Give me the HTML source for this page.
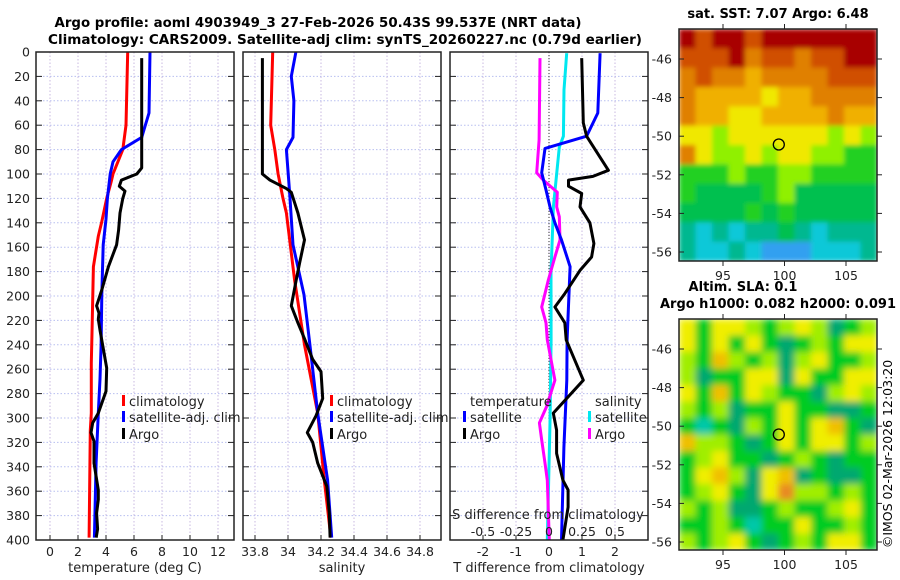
<!DOCTYPE html>
<html><head><meta charset="utf-8"><style>
html,body{margin:0;padding:0;background:#fff;}
svg{display:block;font-family:"DejaVu Sans","Liberation Sans",sans-serif;}
</style></head><body>
<svg id="fig" width="900" height="580" viewBox="0 0 900 580" xmlns="http://www.w3.org/2000/svg">
<defs>
<filter id="blurS" x="0" y="0" width="1" height="1"><feGaussianBlur stdDeviation="2.5" edgeMode="duplicate"/></filter>
<filter id="blurA" x="0" y="0" width="1" height="1"><feGaussianBlur stdDeviation="3.5" edgeMode="duplicate"/></filter>
<clipPath id="clipTop"><rect x="679" y="29" width="198" height="232"/></clipPath>
<clipPath id="clipBot"><rect x="679" y="319" width="198" height="231"/></clipPath>
</defs>
<text x="318" y="27" text-anchor="middle" font-weight="bold" font-size="13" textLength="527" lengthAdjust="spacingAndGlyphs">Argo profile: aoml 4903949_3 27-Feb-2026 50.43S 99.537E (NRT data)</text>
<text x="345" y="44" text-anchor="middle" font-weight="bold" font-size="13" textLength="594" lengthAdjust="spacingAndGlyphs">Climatology: CARS2009. Satellite-adj clim: synTS_20260227.nc (0.79d earlier)</text>
<g id="plots"></g>
<text x="778" y="18" text-anchor="middle" font-weight="bold" font-size="13">sat. SST: 7.07 Argo: 6.48</text>
<text x="743" y="291" text-anchor="middle" font-weight="bold" font-size="13">Altim. SLA: 0.1</text>
<text x="778" y="308" text-anchor="middle" font-weight="bold" font-size="13" textLength="236" lengthAdjust="spacingAndGlyphs">Argo h1000: 0.082 h2000: 0.091</text>
<text transform="translate(892,454) rotate(-90)" text-anchor="middle" font-size="12.5">©IMOS 02-Mar-2026 12:03:20</text>
</svg>
<script>
// ---------- profile data ----------
const depthTicks = [0,20,40,60,80,100,120,140,160,180,200,220,240,260,280,300,320,340,360,380,400];
const tempTicks = [0,2,4,6,8,10,12];
const salTicks = [33.8,34,34.2,34.4,34.6,34.8];
const salTickLabels = ["33.8","34","34.2","34.4","34.6","34.8"];
const tdiffTicks = [-2,-1,0,1,2];
const sdiffTicks = [-0.5,-0.25,0,0.25,0.5];
const sdiffTickLabels = ["-0.5","-0.25","0","0.25","0.5"];

const climTDepth = [0,60,80,100,105,120,139,151,176,230,255,296,310,398];
const climTVal   = [5.55,5.43,5.2,4.5,4.4,4.05,3.7,3.45,3.1,3.0,2.95,2.95,2.88,2.79];
const satTDepth = [0,50,70,80,90,100,120,137,158,199,240,268,296,337,398];
const satTVal   = [7.14,7.07,6.55,5.1,4.5,4.3,4.1,4.0,3.8,3.7,3.65,3.57,3.45,3.29,3.17];
const argoTDepth = [5,95,100,105,110,114,120,132,146,158,176,195,208,214,219,228,240,259,278,296,304,312,319,337,359,367,378,391,398];
const argoTVal   = [6.55,6.55,6.2,5.1,4.95,5.36,5.2,5.0,4.9,4.76,4.17,3.7,3.33,3.5,3.45,3.57,3.76,4.05,4.0,3.45,3.05,2.93,3.14,3.14,3.45,3.45,3.33,3.4,3.3];

const climSDepth = [0,60,80,100,120,132,187,240,296,351,398];
const climSVal   = [33.907,33.895,33.92,33.94,33.97,33.99,34.04,34.10,34.18,34.22,34.26];
const satSDepth = [0,20,40,70,80,115,158,199,240,296,351,398];
const satSVal   = [34.048,34.02,34.036,34.03,33.99,34.01,34.03,34.097,34.133,34.18,34.24,34.265];
const argoSDepth = [5,100,105,112,115,132,154,173,187,208,222,235,252,262,284,298,312,320,337,356,378,398];
const argoSVal   = [33.845,33.845,33.89,33.99,34.02,34.06,34.10,34.07,34.05,34.02,34.06,34.10,34.15,34.2,34.21,34.17,34.117,34.15,34.18,34.235,34.25,34.255];

const satTdDepth = [1,50,69,79,99,113,127,140,154,176,236,269,324,400];
const satTdVal   = [1.55,1.48,1.14,-0.12,-0.22,-0.09,0.03,0.18,0.38,0.64,0.55,0.54,0.45,0.38];
const argoTdDepth = [5,58,69,97,102,105,110,116,127,140,157,168,179,198,209,222,236,269,296,310,329,351,359,373,400];
const argoTdVal   = [0.99,1.04,1.14,1.8,1.33,0.59,0.59,0.99,0.94,1.24,1.36,1.29,0.94,0.48,0.18,0.48,0.52,1.04,0.13,0.23,0.23,0.42,0.58,0.58,0.42];
const satSdDepth = [1,31,69,78,127,181,236,300,400];
const satSdVal   = [0.134,0.114,0.109,0.078,0.033,0.015,0.016,0.008,-0.013];
const argoSdDepth = [5,72,99,105,115,127,135,154,168,187,209,222,236,269,291,304,318,337,351,400];
const argoSdVal   = [-0.068,-0.075,-0.093,-0.043,0.063,0.058,0.078,0.083,0.045,-0.005,-0.055,-0.023,-0.013,0.045,-0.02,-0.073,-0.055,-0.03,-0.013,0.002];

// ---------- map data ----------
const sstLevelColors = ["#30a0f0","#10c8d8","#00b890","#00c050","#20d020","#90f000","#f0e800","#f0b000","#e08000","#d05000","#a80000"];
const sstGrid = [
 [10,9,10,10,9,10,10,10,10,10,10,10],
 [9,9,9,10,8,9,9,8,9,9,10,10],
 [8,9,8,8,7,8,8,8,8,9,9,9],
 [8,7,7,7,7,6,7,7,8,8,8,8],
 [8,7,7,6,6,7,7,7,7,8,7,7],
 [6,6,5,6,6,6,6,6,6,5,6,5],
 [8,6,5,5,6,5,6,6,5,5,4,4],
 [4,4,4,5,4,4,5,5,4,4,4,4],
 [4,3,3,3,3,4,5,3,3,3,3,3],
 [3,3,3,3,4,3,4,3,3,3,3,3],
 [2,1,2,1,2,2,3,2,1,2,2,2],
 [2,1,1,2,1,0,0,0,1,1,1,2]
];
const slaLevels = [-2,-1,0,1,2,3,4];
const slaColors = ["#00c8a8","#00a870","#00cc20","#a0ee00","#f0ee00","#f0c000","#e88a20"];
const slaGrid = [
 [2,0,2,2,1,0,1,2,1,-1,0,1],
 [2,0,2,0,2,0,-1,0,1,0,2,2],
 [1,0,3,1,0,1,-1,1,2,0,0,1],
 [1,-1,0,0,2,2,-1,2,0,0,2,2],
 [2,0,3,0,2,1,0,0,-1,1,2,1],
 [1,0,1,-1,0,0,2,0,0,-1,-1,0],
 [0,-2,0,-1,1,0,2,0,2,3,0,-1],
 [3,1,1,0,-1,0,2,0,2,2,0,1],
 [0,1,2,0,0,-1,0,1,0,-1,0,0],
 [0,2,3,1,-1,2,3,-1,0,-1,-1,0],
 [0,1,2,0,-1,2,4,1,1,0,1,0],
 [1,0,1,-1,-1,0,1,0,0,1,2,0],
 [0,0,1,0,-2,0,0,2,0,0,1,0],
 [1,0,1,2,0,-1,0,1,0,2,2,0]
];
const latTicks = [-46,-48,-50,-52,-54,-56];
const lonTicks = [95,100,105];
const argoLon = 99.537;
const argoLat = -50.43;

// ---------- scales ----------
const Y0 = 52, Y1 = 540;
function depthY(d){ return Y0 + d*(Y1-Y0)/400; }
function tX(t){ return 50 + t*14; }
function sX(s){ return 288 + (s-34)*165; }
function dX(t){ return 549 + t*33; }
function sdX(s){ return 549 + s*132; }
function lonX(lon){ return 723 + (lon-95)*12.3; }
function latYTop(lat){ return 59 + (-46-lat)*19.3; }
function latYBot(lat){ return 349 + (-46-lat)*19.3; }

const NS = "http://www.w3.org/2000/svg";
const root = document.getElementById('plots');
function mk(tag, attrs, parent){
  const e = document.createElementNS(NS, tag);
  for (const k in attrs) e.setAttribute(k, attrs[k]);
  (parent||root).appendChild(e);
  return e;
}
function txt(x,y,s,anchor,size,parent){
  const e = mk('text',{x:x,y:y,'text-anchor':anchor||'middle','font-size':size||12.5,fill:'#222'},parent);
  e.textContent = s;
  return e;
}

const panels = [
  {x0:36,x1:234,ticks:tempTicks,labels:tempTicks.map(String),f:tX,title:"temperature (deg C)",name:"temperature-panel"},
  {x0:243,x1:441,ticks:salTicks,labels:salTickLabels,f:sX,title:"salinity",name:"salinity-panel"},
  {x0:450,x1:648,ticks:tdiffTicks,labels:tdiffTicks.map(String),f:dX,title:"T difference from climatology",name:"difference-panel"}
];

panels.forEach(function(p,pi){
  const g = mk('g',{});
  
  
  depthTicks.forEach(function(d){
    const y = depthY(d);
    const l = mk('line',{x1:p.x0,x2:p.x1,y1:y,y2:y,stroke:'#b8bff0','stroke-width':1,'stroke-dasharray':'1.5,2'},g);
    
    
    const a = mk('line',{x1:p.x0,x2:p.x0+6,y1:y,y2:y,stroke:'#222','stroke-width':1},g);
    const b = mk('line',{x1:p.x1-6,x2:p.x1,y1:y,y2:y,stroke:'#222','stroke-width':1},g);
     
     
  });
  p.ticks.forEach(function(t,i){
    const x = p.f(t);
    const l = mk('line',{x1:x,x2:x,y1:Y0,y2:Y1,stroke:'#c8b8e0','stroke-width':1,'stroke-dasharray':'1.5,2'},g);
    
    
    const tk = mk('line',{x1:x,x2:x,y1:Y1-5,y2:Y1,stroke:'#222','stroke-width':1},g);
     
    const lb = txt(x,556,p.labels[i],'middle',12.5,g);
    
    
  });
  const at = txt((p.x0+p.x1)/2,572,p.title,'middle',13,g);
  
  
});

depthTicks.forEach(function(d){
  const e = txt(30,depthY(d)+4.5,String(d),'end',12.5);
  
  
});

const zl = mk('line',{x1:dX(0),x2:dX(0),y1:Y0,y2:Y1,stroke:'#333','stroke-width':1,'stroke-dasharray':'1,2'});



function series(depths, vals, fx, color, name){
  const pts = depths.map(function(d,i){ return fx(vals[i]).toFixed(1)+','+depthY(d).toFixed(1); }).join(' ');
  const pl = mk('polyline',{points:pts,fill:'none',stroke:color,'stroke-width':3,'stroke-linejoin':'round'});
  
  
}
series(climTDepth, climTVal, tX, '#ff0000', 'temperature-climatology-line');
series(satTDepth, satTVal, tX, '#0000ff', 'temperature-satellite-line');
series(argoTDepth, argoTVal, tX, '#000000', 'temperature-argo-line');
series(climSDepth, climSVal, sX, '#ff0000', 'salinity-climatology-line');
series(satSDepth, satSVal, sX, '#0000ff', 'salinity-satellite-line');
series(argoSDepth, argoSVal, sX, '#000000', 'salinity-argo-line');
series(satSdDepth, satSdVal, sdX, '#00e8f0', 'salinity-diff-satellite-line');
series(argoSdDepth, argoSdVal, sdX, '#ff00ff', 'salinity-diff-argo-line');
series(satTdDepth, satTdVal, dX, '#0000ff', 'temperature-diff-satellite-line');
series(argoTdDepth, argoTdVal, dX, '#000000', 'temperature-diff-argo-line');

panels.forEach(function(p){
  const r = mk('rect',{x:p.x0,y:Y0,width:p.x1-p.x0,height:Y1-Y0,fill:'none',stroke:'#222','stroke-width':1.5});
  
  
});

const sdt = txt(548,519,'S difference from climatology','middle',13);


sdiffTicks.forEach(function(s,i){
  const e = txt(sdX(s),536,sdiffTickLabels[i],'middle',12.5);
  
  
});

function legendEntry(mx, ty, color, label, name){
  const g = mk('g',{});
  
  
  mk('rect',{x:mx,y:ty-11,width:3,height:11,fill:color},g);
  txt(mx+7,ty,label,'start',13,g);
}
legendEntry(122,406,'#ff0000','climatology','legend-temp-climatology');
legendEntry(122,422,'#0000ff','satellite-adj. clim','legend-temp-satellite');
legendEntry(122,439,'#000000','Argo','legend-temp-argo');
legendEntry(330,406,'#ff0000','climatology','legend-sal-climatology');
legendEntry(330,422,'#0000ff','satellite-adj. clim','legend-sal-satellite');
legendEntry(330,439,'#000000','Argo','legend-sal-argo');
const lt = txt(470,406,'temperature','start',13);


const ls = txt(595,406,'salinity','start',13);


legendEntry(463,422,'#0000ff','satellite','legend-tdiff-satellite');
legendEntry(463,439,'#000000','Argo','legend-tdiff-argo');
legendEntry(588,422,'#00e8f0','satellite','legend-sdiff-satellite');
legendEntry(588,439,'#ff00ff','Argo','legend-sdiff-argo');

function drawMap(grid, colorFn, y0, h, clip, filt, name, latY){
  const outer = mk('g',{'clip-path':'url(#'+clip+')'});
  
  
  const g = mk('g',{filter:'url(#'+filt+')'},outer);
  const rows = grid.length, cols = grid[0].length;
  const cw = 198/cols, ch = h/rows;
  grid.forEach(function(row,r){
    row.forEach(function(v,c){
      const cell = mk('rect',{x:(679+c*cw).toFixed(2),y:(y0+r*ch).toFixed(2),width:(cw+0.6).toFixed(2),height:(ch+0.6).toFixed(2),fill:colorFn(v)},g);
      
      
    });
  });
  const fr = mk('rect',{x:679,y:y0,width:198,height:h,fill:'none',stroke:'#222','stroke-width':1.5});
  
  
  latTicks.forEach(function(lat){
    const y = latY(lat);
    mk('line',{x1:679,x2:684,y1:y,y2:y,stroke:'#222'});
    mk('line',{x1:877,x2:882,y1:y,y2:y,stroke:'#222'});
    const e = txt(672,y+4.5,String(lat),'end',12.5);
    
    
  });
  lonTicks.forEach(function(lon){
    const x = lonX(lon);
    mk('line',{x1:x,x2:x,y1:y0+h,y2:y0+h+5,stroke:'#222'});
    mk('line',{x1:x,x2:x,y1:y0-5,y2:y0,stroke:'#222'});
    const e = txt(x,y0+h+19,String(lon),'middle',12.5);
    
    
  });
  const m = mk('circle',{cx:lonX(argoLon),cy:latY(argoLat),r:5.5,fill:'none',stroke:'#000','stroke-width':1.3});
  
  
}
drawMap(sstGrid, function(v){ return sstLevelColors[v]; }, 29, 232, 'clipTop', 'blurS', 'sst-map', latYTop);
drawMap(slaGrid, function(v){ return slaColors[slaLevels.indexOf(v)]; }, 319, 231, 'clipBot', 'blurA', 'sla-map', latYBot);
</script>
</body></html>
